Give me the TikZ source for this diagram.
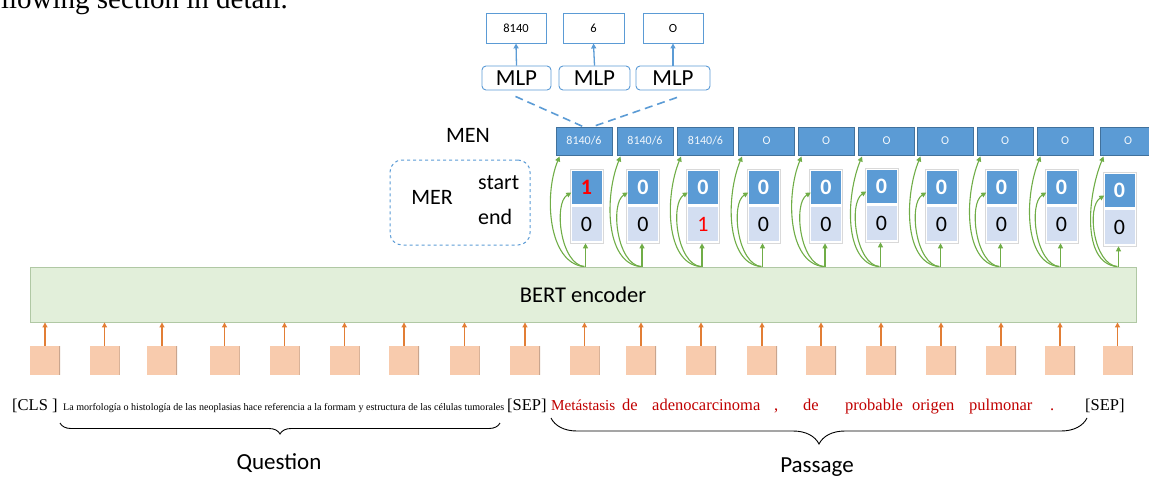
\documentclass[tikz,border=0pt]{standalone}
\usepackage{fontspec}
\usepackage{graphicx}
\setmainfont{Liberation Serif}
\newfontfamily\calib{Carlito}
\usetikzlibrary{arrows.meta,calc,decorations.pathreplacing}

\definecolor{blueA}{HTML}{5B9BD5}
\definecolor{blueD}{HTML}{41719C}
\definecolor{cellL}{HTML}{D3DEF1}
\definecolor{frameG}{HTML}{D9D9D9}
\definecolor{greenA}{HTML}{70AD47}
\definecolor{bertF}{HTML}{E2EFDA}
\definecolor{bertD}{HTML}{B0C8A4}
\definecolor{orangeF}{HTML}{F8CBAD}
\definecolor{orangeE}{HTML}{C9A58E}
\definecolor{orangeA}{HTML}{ED7D31}
\definecolor{tokred}{HTML}{C00000}
\definecolor{digred}{HTML}{FF0000}

\newcommand{\fs}[1]{\fontsize{#1}{#1}\selectfont}

\tikzset{
  outbox/.style={draw=blueA, line width=0.9pt, fill=white, minimum width=60pt,
    minimum height=30pt, inner sep=0pt, font=\calib\fs{12.5}},
  mlpbox/.style={draw=blueA, line width=0.9pt, fill=white, rounded corners=4pt,
    minimum height=24pt, inner sep=0pt, font=\calib\fs{23}},
  menbox/.style={fill=blueA, draw=blueD, line width=0.9pt, minimum width=56pt,
    minimum height=28pt, inner sep=0pt, text=white!92!blueA, font=\calib\fs{12}},
  colframe/.style={draw=frameG, line width=0.6pt, fill=white, minimum width=33pt,
    minimum height=74pt, inner sep=0pt},
  topcell/.style={fill=blueA, minimum width=30pt, minimum height=33pt, inner sep=0pt,
    font=\calib\bfseries\fs{22}},
  botcell/.style={fill=cellL, minimum width=30pt, minimum height=34pt, inner sep=0pt,
    font=\calib\fs{22}},
  tokbox/.style={fill=orangeF, minimum width=30pt, minimum height=29pt, inner sep=0pt,
    path picture={\draw[orangeE, line width=1.2pt]
      (path picture bounding box.north east) -- (path picture bounding box.south east);}},
  barrow/.style={draw=blueA, line width=1.3pt, -{Triangle[length=5pt,width=5pt]}},
  garrow/.style={draw=greenA, line width=1.1pt, -{Triangle[length=5pt,width=5pt]}},
  oarrow/.style={draw=orangeA!75!brown, line width=1.1pt,
    -{Triangle[length=5pt,width=5pt,fill=orangeA]}},
  mlpdash/.style={draw=blueA, line width=1.6pt, dash pattern=on 8pt off 5pt},
  lbl/.style={inner sep=0pt, font=\calib\fs{22}},
  tok/.style={anchor=base west, inner sep=0pt, font=\fs{16.5}},
  redtok/.style={tok, text=tokred},
  bracedeco/.style={decorate, line width=0.9pt},
}

\begin{document}
\begin{tikzpicture}[x=1pt, y=-1pt]
\useasboundingbox (0,0) rectangle (1149,477);
\clip (0,0) rectangle (1149,477);

% running text above the figure
\node[anchor=base east, inner sep=0pt, font=\fs{29}] (runtext) at (288,8) {following section in detail.};

% type classifiers and their outputs
\node[outbox] (o1) at (516,28) {8140};
\node[outbox, minimum width=61pt] (o2) at (593.5,28) {6};
\node[outbox] (o3) at (673,28) {O};
\node[mlpbox, minimum width=69pt] (m1) at (516.5,78) {MLP};
\node[mlpbox, minimum width=71pt] (m2) at (594.5,78) {MLP};
\node[mlpbox, minimum width=74pt] (m3) at (673,78) {MLP};
\foreach \i in {1,2,3} \draw[barrow] (m\i.north) -- (o\i.south);

% entity normalisation row
\foreach \i/\x in {1/584, 2/645, 3/705.5}
  \node[menbox] (men\i) at (\x,141) {8140/6};
\foreach \i/\x in {4/766.5, 5/826, 6/886.5, 7/945, 8/1005, 9/1065, 10/1128}
  \node[menbox] (men\i) at (\x,141) {O};
\node[lbl] (menlabel) at (468,135) {MEN};

\coordinate (dA) at ($(m1.south)+(-1,6)$);
\coordinate (dB) at ($(m3.south)+(4,7)$);
\draw[mlpdash] (dA) -- ($(men1.north)+(-1,0)$);
\draw[mlpdash] (dB) -- ($(men1.north)+(9,0)$);

% recognition legend
\node[draw=blueA, dashed, line width=1pt, rounded corners=12pt, minimum width=140pt,
  minimum height=85pt] (merbox) at (460,202.5) {};
\node[lbl] (merlabel) at (432,197) {MER};
\node[lbl, anchor=west] (startlabel) at (478,183) {start};
\node[lbl, anchor=west] (endlabel) at (478,217) {end};

% start / end cells
\foreach \i/\xc/\dy/\tv/\tc/\bv/\bc in {
   1/586.5/0/1/digred/0/black,
   2/643/0/0/white/0/black,
   3/703/0/0/white/1/digred,
   4/763.5/0/0/white/0/black,
   5/826/0/0/white/0/black,
   6/881.5/-1/0/white/0/black,
   7/941.5/0/0/white/0/black,
   8/1001.5/0/0/white/0/black,
   9/1061.5/0/0/white/0/black,
   10/1119.5/3/0/white/0/black}{
  \node[colframe] (col\i) at (\xc,206+\dy) {};
  \node[topcell, text=\tc] (st\i) at (\xc,187.5+\dy) {\tv};
  \node[botcell, text=\bc] (en\i) at (\xc,224+\dy) {\bv};
}

% encoder
\node[draw=bertD, fill=bertF, line width=0.9pt, minimum width=1106pt, minimum height=55pt,
  inner sep=0pt, font=\calib\fs{22.5}] (bert) at (583,294.5) {BERT encoder};

% encoder outputs feeding the three heads
\foreach \i in {1,...,10}{
  \coordinate (b\i) at (col\i.south |- bert.north);
  \draw[garrow] ($(b\i)+(-1,0)$) -- ($(col\i.south)+(-1,0)$);
  \draw[garrow] ($(b\i)+(-2,0)$) .. controls ($(b\i)+(-26,-2)$) and ($(st\i.west)+(-18,16)$) .. ($(st\i.west)+(0,5)$);
  \draw[garrow] ($(b\i)+(-3,0)$) .. controls ($(b\i)+(-38,-4)$) and ($(men\i.south west)+(-12,40)$) .. ($(men\i.south west)+(4,1)$);
}

% input token embeddings
\foreach \i/\x in {1/45, 2/104.5, 3/162, 4/224.5, 5/284.5, 6/344.5, 7/404, 8/464.5,
    9/525, 10/584.5, 11/641, 12/701, 13/762, 14/821, 15/881, 16/941, 17/1001,
    18/1060, 19/1117.5}{
  \node[tokbox] (sq\i) at (\x,360.5) {};
  \draw[oarrow] (sq\i.north) -- (sq\i.north |- bert.south);
}

% input tokens
\node[tok] (cls) at (12,410) {[CLS ]};
\node[anchor=base west, inner sep=0pt] (qtext) at (63,410)
  {\resizebox{441pt}{!}{\fs{10}La morfología o histología de las neoplasias hace referencia a la formam y estructura de las células tumorales}};
\node[tok] (sep1) at (507,410) {[SEP]};
\node[redtok, font=\fs{15.2}] (p1) at (551,410) {Metástasis};
\node[redtok] (p2) at (622,410) {de};
\node[redtok] (p3) at (652,410) {adenocarcinoma};
\node[redtok] (p4) at (774,410) {,};
\node[redtok] (p5) at (803,410) {de};
\node[redtok] (p6) at (845,410) {probable};
\node[redtok] (p7) at (912,410) {origen};
\node[redtok] (p8) at (969,410) {pulmonar};
\node[redtok] (p9) at (1050,410) {.};
\node[tok] (sep2) at (1085,410) {[SEP]};

% segment braces
\coordinate (qL) at (60,423);
\coordinate (qR) at (500,423);
\draw[bracedeco, decoration={brace, mirror, amplitude=11pt}] (qL) -- (qR);
\coordinate (pL) at (551,418);
\coordinate (pR) at (1087,418);
\draw[bracedeco, decoration={brace, mirror, amplitude=26pt}] (pL) -- (pR);
\node[lbl, font=\calib\fs{23}] (question) at (279,463) {Question};
\node[lbl, font=\calib\fs{23}] (passage) at (817,467) {Passage};
\end{tikzpicture}
\end{document}
